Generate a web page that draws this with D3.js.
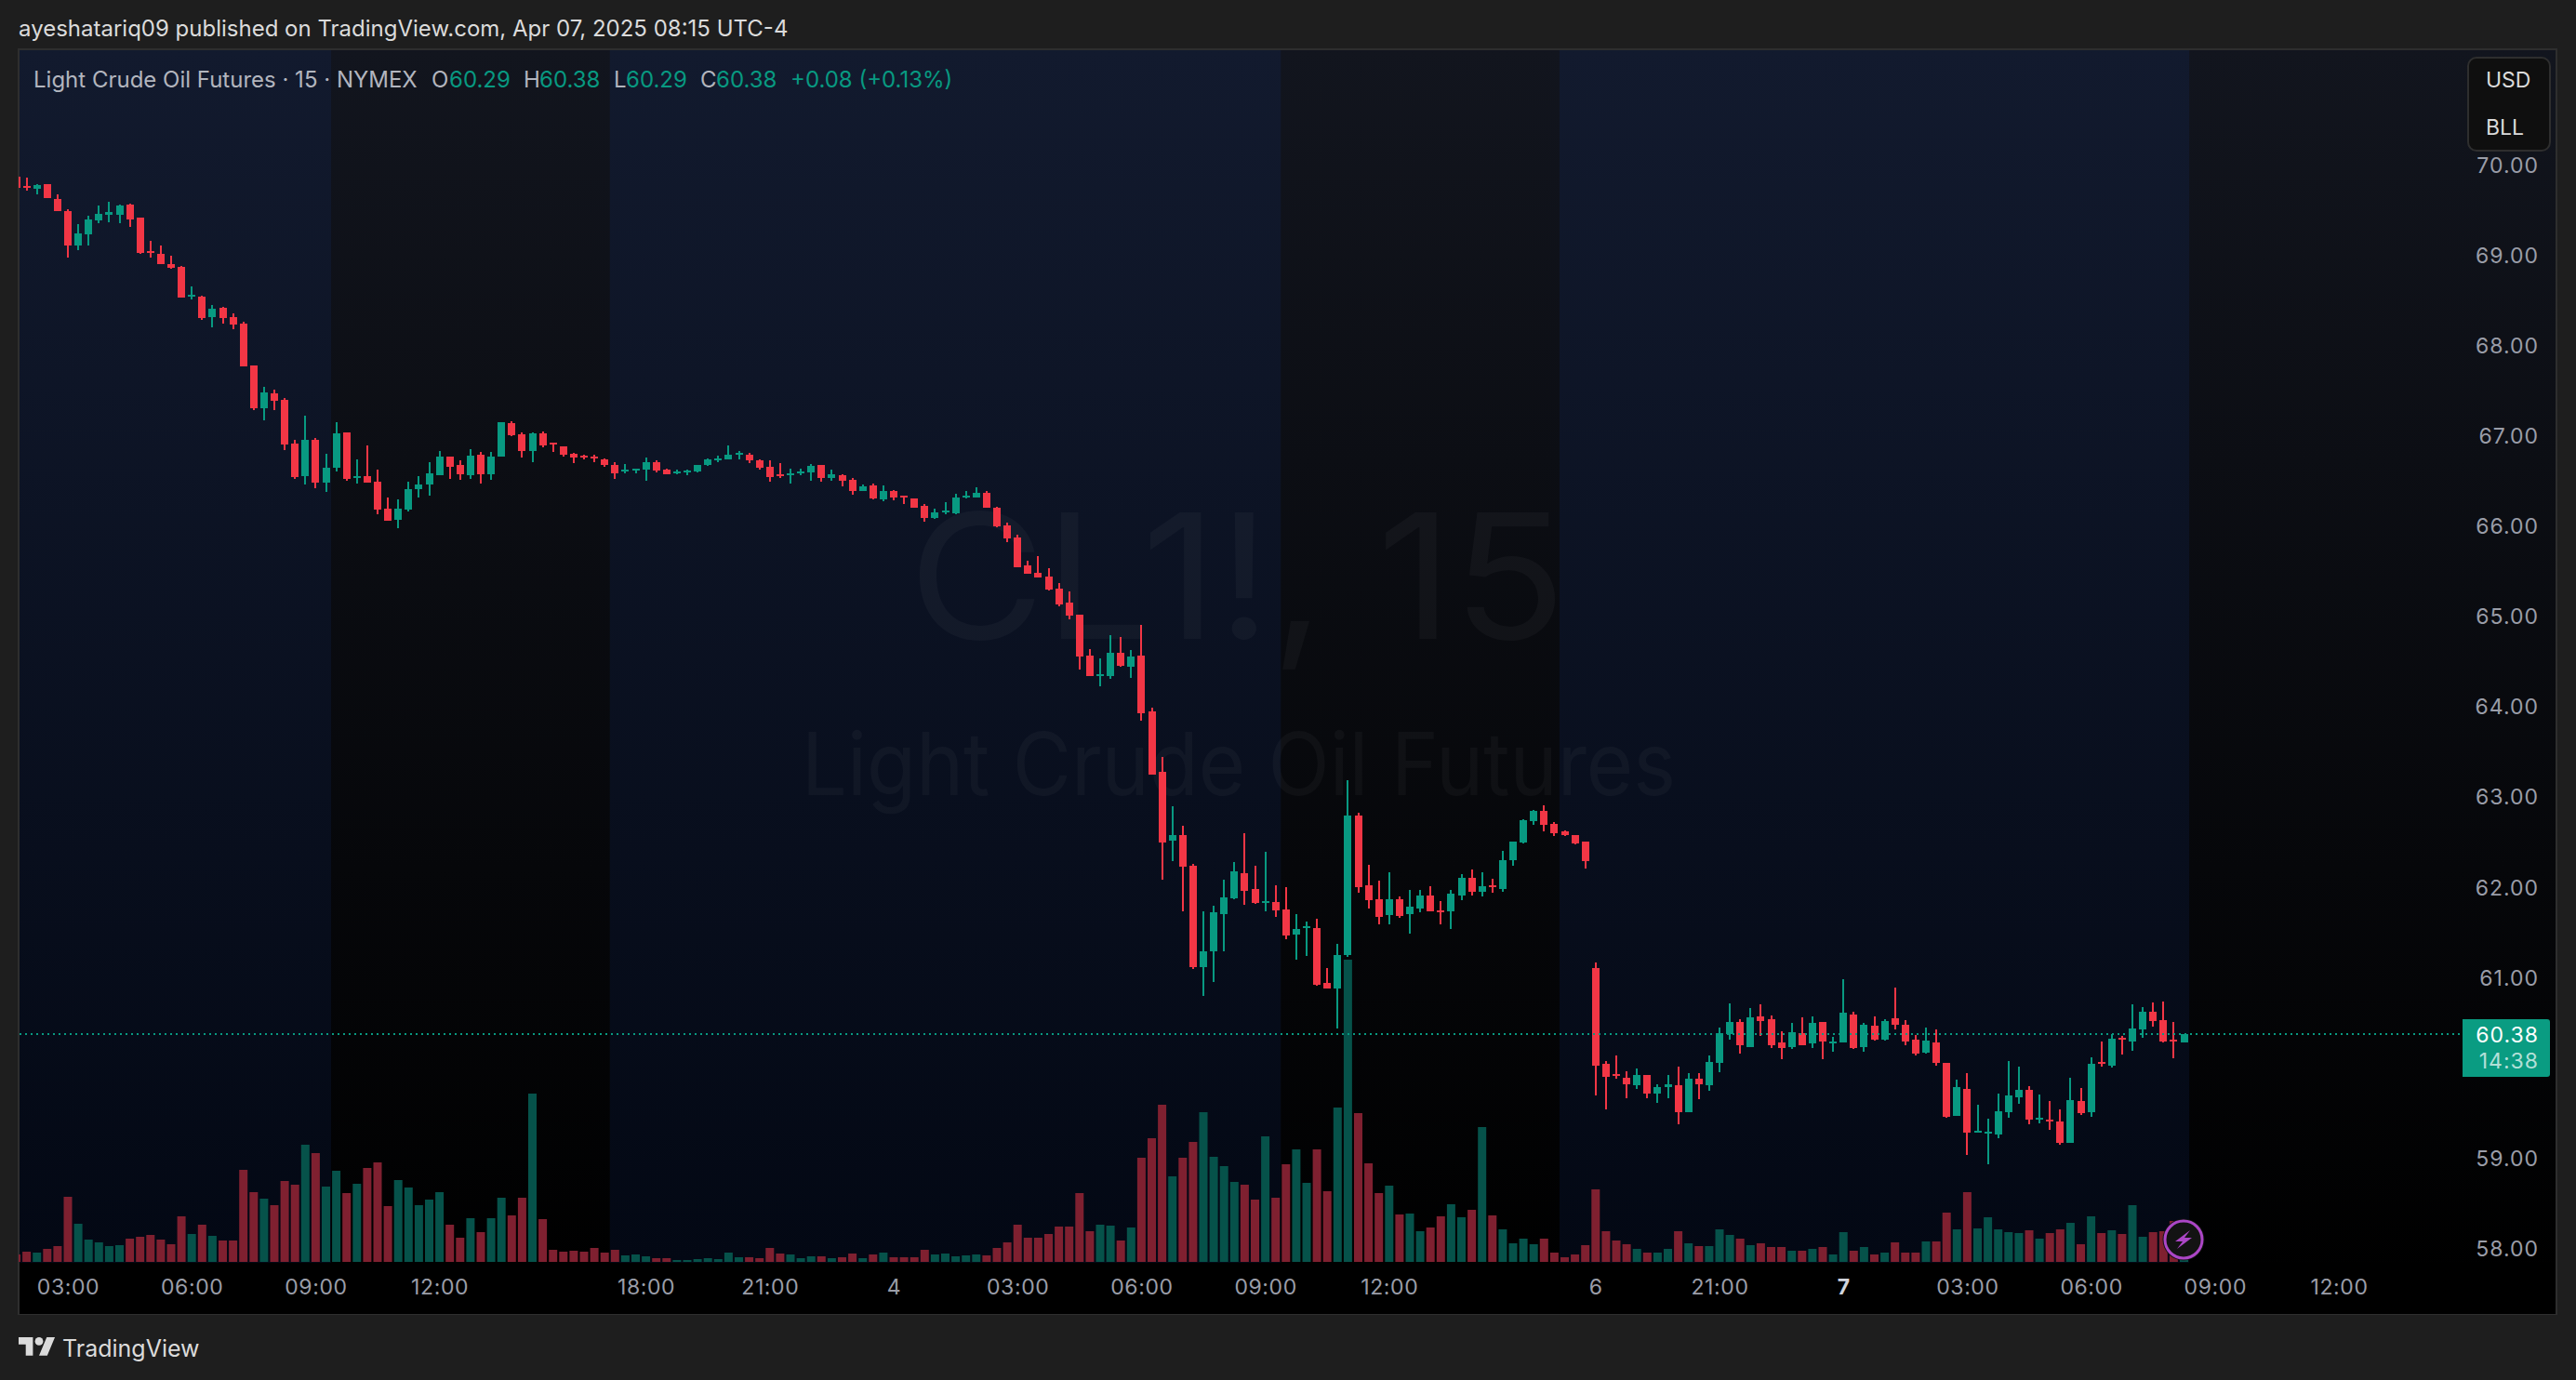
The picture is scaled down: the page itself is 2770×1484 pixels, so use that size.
<!DOCTYPE html>
<html><head><meta charset="utf-8">
<script src="https://cdnjs.cloudflare.com/ajax/libs/d3/7.8.5/d3.min.js"></script>
<style>html,body{margin:0;padding:0;background:#1e1e1e}svg{display:block}text{font-family:Inter,"Noto Sans",sans-serif}</style>
</head><body><svg id="c" width="2770" height="1484"></svg>
<script>
const firstIndex=-5;
const opens=[69.88,69.77,69.74,69.79,69.63,
69.50,69.11,69.24,69.39,69.45,69.45,69.57,69.42,69.05,69.02,
68.91,68.88,68.55,68.55,68.32,68.42,68.32,68.25,67.79,67.31,
67.48,67.40,66.92,66.56,66.96,66.49,66.65,67.04,66.54,66.56,
66.50,66.20,66.08,66.19,66.42,66.47,66.57,66.78,66.68,66.57,
66.80,66.58,66.78,67.15,67.02,66.84,67.03,66.93,66.89,66.81,
66.79,66.78,66.75,66.68,66.61,66.62,66.63,66.71,66.63,66.59,
66.60,66.61,66.68,66.74,66.75,66.80,66.80,66.73,66.66,66.58,
66.57,66.59,66.60,66.68,66.54,66.57,66.52,66.40,66.46,66.30,
66.39,66.34,66.31,66.23,66.10,66.16,66.15,66.32,66.32,66.37,
66.21,66.01,65.88,65.57,65.49,65.45,65.31,65.16,65.02,64.57,
64.34,64.34,64.60,64.45,64.57,63.95,63.28,62.52,62.58,62.24,
61.12,61.30,61.71,61.88,62.16,61.99,61.83,61.84,61.76,61.48,
61.56,61.55,60.95,60.88,61.25,62.80,62.03,61.87,61.70,61.87,
61.71,61.77,61.91,61.75,61.74,61.91,62.11,61.96,62.03,61.99,
62.31,62.50,62.74,62.85,62.71,62.62,62.58,62.51,61.11,60.05,
59.94,59.90,59.81,59.93,59.72,59.79,59.81,59.51,59.88,59.81,
60.06,60.38,60.51,60.24,60.57,60.54,60.29,60.24,60.39,60.28,
60.51,60.28,60.29,60.60,60.24,60.47,60.32,60.55,60.48,60.32,
60.17,60.29,60.06,59.47,59.77,59.29,59.28,59.27,59.51,59.68,
59.76,59.43,59.43,59.41,59.17,59.64,59.51,60.07,60.03,60.34,
60.30,60.43,60.63,60.53,60.32,60.29];
const highs=[69.88,69.87,69.79,69.79,69.68,
69.52,69.35,69.44,69.56,69.60,69.57,69.58,69.42,69.17,69.11,
69.00,68.89,68.66,68.56,68.45,68.43,68.36,68.27,67.79,67.55,
67.52,67.43,66.96,67.23,66.98,66.81,67.16,67.04,66.75,66.90,
66.63,66.32,66.30,66.50,66.56,66.71,66.84,66.78,66.73,66.86,
66.83,66.83,67.16,67.17,67.04,67.04,67.05,66.93,66.89,66.82,
66.80,66.80,66.76,66.71,66.69,66.64,66.77,66.73,66.64,66.63,
66.63,66.68,66.76,66.79,66.90,66.84,66.82,66.75,66.73,66.70,
66.64,66.64,66.69,66.68,66.63,66.58,66.54,66.47,66.48,66.46,
66.41,66.34,66.31,66.25,66.20,66.27,66.36,66.40,66.44,66.39,
66.22,66.04,65.91,65.62,65.67,65.54,65.38,65.28,65.02,64.64,
64.54,64.80,64.78,64.63,64.91,63.99,63.45,62.90,62.69,62.26,
61.74,61.80,62.09,62.29,62.60,62.24,62.40,62.03,62.01,61.71,
61.63,61.66,61.11,61.38,63.19,62.83,62.25,62.08,62.17,61.90,
61.98,61.98,62.02,61.85,61.98,62.15,62.20,62.17,62.10,62.41,
62.51,62.76,62.86,62.91,62.73,62.64,62.58,62.51,61.17,60.08,
60.14,59.97,60.00,59.93,59.82,59.93,60.02,59.95,59.95,60.14,
60.45,60.72,60.54,60.67,60.71,60.59,60.41,60.50,60.56,60.58,
60.51,60.35,60.99,60.63,60.50,60.58,60.54,60.89,60.53,60.37,
60.45,60.43,60.06,59.87,59.95,59.60,59.44,59.72,60.08,60.02,
59.80,59.71,59.64,59.54,59.90,59.78,60.12,60.30,60.38,60.36,
60.71,60.68,60.73,60.74,60.51,60.38];
const lows=[69.75,69.72,69.68,69.64,69.50,
68.98,69.06,69.11,69.36,69.37,69.36,69.32,69.02,68.98,68.91,
68.86,68.54,68.52,68.29,68.21,68.25,68.19,67.77,67.29,67.18,
67.29,66.85,66.53,66.47,66.43,66.38,66.61,66.51,66.48,66.49,
66.14,66.07,65.98,66.17,66.32,66.34,66.57,66.53,66.52,66.53,
66.48,66.52,66.78,67.00,66.77,66.71,66.88,66.83,66.78,66.70,
66.75,66.71,66.66,66.53,66.59,66.59,66.51,66.60,66.58,66.58,
66.57,66.60,66.67,66.71,66.75,66.75,66.70,66.63,66.50,66.54,
66.48,66.57,66.51,66.50,66.51,66.45,66.35,66.40,66.30,66.28,
66.29,66.25,66.21,66.06,66.09,66.14,66.14,66.31,66.32,66.21,
65.99,65.83,65.55,65.48,65.44,65.29,65.12,64.97,64.42,64.34,
64.23,64.31,64.45,64.32,63.85,63.25,62.09,62.30,61.74,61.10,
60.80,60.96,61.30,61.87,61.81,61.82,61.74,61.68,61.43,61.20,
61.24,60.92,60.88,60.44,61.23,61.94,61.77,61.60,61.59,61.67,
61.49,61.73,61.74,61.59,61.54,61.86,61.91,61.90,61.95,61.96,
62.24,62.49,62.70,62.62,62.57,62.57,62.48,62.21,59.70,59.55,
59.88,59.67,59.77,59.67,59.62,59.67,59.38,59.51,59.66,59.75,
59.96,60.32,60.16,60.24,60.36,60.23,60.10,60.21,60.26,60.23,
60.10,60.18,60.29,60.21,60.18,60.31,60.31,60.43,60.26,60.14,
60.16,60.03,59.45,59.47,59.04,59.29,58.94,59.23,59.45,59.61,
59.38,59.39,59.32,59.15,59.17,59.48,59.46,60.02,60.01,60.15,
60.19,60.34,60.46,60.29,60.11,60.29];
const closes=[69.75,69.76,69.78,69.64,69.50,
69.11,69.25,69.40,69.46,69.48,69.56,69.40,69.03,69.04,68.91,
68.87,68.54,68.57,68.31,68.41,68.31,68.24,67.78,67.31,67.49,
67.39,66.91,66.55,66.96,66.49,66.65,67.03,66.53,66.56,66.49,
66.19,66.07,66.20,66.42,66.47,66.59,66.78,66.66,66.58,66.79,
66.58,66.78,67.16,67.01,66.84,67.03,66.90,66.91,66.80,66.77,
66.77,66.76,66.68,66.59,66.63,66.64,66.71,66.62,66.58,66.61,
66.62,66.68,66.75,66.76,66.80,66.82,66.73,66.65,66.55,66.56,
66.59,66.61,66.67,66.54,66.58,66.51,66.40,66.45,66.31,66.39,
66.32,66.32,66.21,66.10,66.16,66.18,66.32,66.34,66.37,66.21,
66.00,65.87,65.55,65.48,65.44,65.30,65.14,65.01,64.56,64.34,
64.37,64.60,64.46,64.56,63.93,63.25,62.50,62.58,62.23,61.12,
61.30,61.73,61.89,62.18,61.97,61.83,61.85,61.75,61.47,61.54,
61.57,60.93,60.88,61.26,62.80,62.01,61.86,61.68,61.87,61.69,
61.79,61.91,61.74,61.73,61.93,62.11,61.96,62.02,62.01,62.31,
62.51,62.75,62.85,62.70,62.60,62.58,62.49,62.30,60.03,59.91,
59.92,59.82,59.93,59.72,59.79,59.82,59.51,59.88,59.82,60.07,
60.39,60.51,60.26,60.56,60.52,60.26,60.23,60.40,60.26,60.50,
60.30,60.30,60.62,60.23,60.48,60.32,60.52,60.48,60.30,60.16,
60.31,60.06,59.46,59.79,59.29,59.31,59.30,59.52,59.70,59.76,
59.43,59.45,59.41,59.17,59.65,59.50,60.05,60.05,60.33,60.32,
60.44,60.63,60.52,60.30,60.30,60.38];
const volumes=[8,11,10,14,17,
70,41,24,21,17,18,25,27,29,24,
19,49,30,40,28,23,23,99,75,68,
61,87,83,126,117,81,98,74,84,101,
107,60,88,80,61,67,75,40,26,47,
32,47,69,50,69,181,46,13,11,12,
11,15,10,13,7,8,6,4,4,2,
2,3,4,3,10,5,5,4,15,9,
8,4,6,6,4,5,9,4,8,10,
5,5,5,13,8,9,6,7,8,7,
15,21,40,26,26,30,38,38,74,33,
40,39,23,37,112,133,169,92,112,129,
161,113,103,86,83,67,135,69,105,121,
85,121,76,166,325,160,106,74,82,51,
52,33,37,49,62,48,56,145,50,35,
20,25,19,25,10,5,8,18,78,33,
23,19,14,10,10,14,33,20,17,17,
35,29,25,18,20,16,16,12,12,14,
16,8,32,12,16,8,10,21,10,10,
22,22,53,35,75,36,48,35,32,31,
34,25,31,35,42,19,49,31,34,30,
61,27,32,33,44,2];
const priceTicks=[58,59,61,62,63,64,65,66,67,68,69,70];
const timeTickIndex=[0,12,24,36,56,68,80,92,104,116,128,148,160,172,184,196,208,220];
const timeTickLabels=["03:00","06:00","09:00","12:00","18:00","21:00","4","03:00","06:00","09:00","12:00","6","21:00","7","03:00","06:00","09:00","12:00"];
const sessionBands=[[-4.9,25.5],[52.5,117.5],[144.5,205.5]];
const lastPrice=60.38, countdown="14:38";
const legendName="Light Crude Oil Futures · 15 · NYMEX";
const legendO=60.29,legendH=60.38,legendL=60.29,legendC=60.38;
const legendChange="+0.08 (+0.13%)";

const UP="#089981",DOWN="#f23645",VUP="#06524a",VDOWN="#7f2030";
const svg=d3.select("#c");
const L=20,R=2749,T=54,B=1413,PB=1358;
const x=d3.scaleLinear().domain([0,220]).range([73,2515]);
const y=d3.scaleLinear().domain([58,70]).range([1343,178]);
const v=d3.scaleLinear().domain([0,325]).range([1357,1032]);
const data=opens.map((o,k)=>({i:firstIndex+k,o,h:highs[k],l:lows[k],c:closes[k],v:volumes[k]}));

const defs=svg.append("defs");
const grad=(id,a,b,y1,y2)=>{const g=defs.append("linearGradient").attr("id",id).attr("gradientUnits","userSpaceOnUse").attr("x1",0).attr("x2",0).attr("y1",y1).attr("y2",y2);
g.append("stop").attr("offset",0).attr("stop-color",a);g.append("stop").attr("offset",1).attr("stop-color",b);};
grad("dark","#12151e","#000000",T,B-40);
grad("blue","#121a2e","#030814",T,PB);
defs.append("clipPath").attr("id","pane").append("rect").attr("x",L).attr("y",T).attr("width",R-L).attr("height",PB-T);

svg.append("rect").attr("width",2770).attr("height",1484).attr("fill","#1e1e1e");
svg.append("rect").attr("x",L).attr("y",T-1).attr("width",R-L).attr("height",B-T+1).attr("fill","url(#dark)").attr("stroke","#2e2e2e").attr("stroke-width",2);
svg.append("rect").attr("x",L+1).attr("y",B-56).attr("width",R-L-2).attr("height",56).attr("fill","#000");
svg.append("g").selectAll("rect").data(sessionBands).join("rect")
 .attr("x",d=>Math.max(L+1,x(d[0]))).attr("y",T).attr("width",d=>x(d[1])-Math.max(L+1,x(d[0]))).attr("height",PB-T).attr("fill","url(#blue)");

// watermark
const wm=svg.append("g").attr("fill","#ffffff").attr("fill-opacity",0.035).attr("text-anchor","start").style("font-family","'Liberation Sans',Arial,sans-serif");
wm.append("text").attr("x",977).attr("y",687).attr("font-size",187).attr("textLength",707).attr("lengthAdjust","spacingAndGlyphs").text("CL1!, 15");
wm.append("text").attr("x",862).attr("y",855).attr("font-size",94).attr("textLength",940).attr("lengthAdjust","spacingAndGlyphs").text("Light Crude Oil Futures");

const pane=svg.append("g").attr("clip-path","url(#pane)");
pane.append("g").selectAll("rect").data(data).join("rect")
 .attr("x",d=>x(d.i)-4.5).attr("width",9).attr("y",d=>v(d.v)).attr("height",d=>v(0)-v(d.v))
 .attr("fill",d=>d.c>=d.o?VUP:VDOWN);
const cg=pane.append("g").attr("shape-rendering","crispEdges");
cg.selectAll("line").data(data).join("line")
 .attr("x1",d=>x(d.i)).attr("x2",d=>x(d.i)).attr("y1",d=>y(d.h)).attr("y2",d=>y(d.l))
 .attr("stroke-width",2).attr("stroke",d=>d.c>=d.o?UP:DOWN);
cg.selectAll("rect").data(data).join("rect")
 .attr("x",d=>x(d.i)-4).attr("width",8)
 .attr("y",d=>y(Math.max(d.o,d.c))).attr("height",d=>Math.max(2,Math.abs(y(d.o)-y(d.c))))
 .attr("fill",d=>d.c>=d.o?UP:DOWN);
svg.append("line").attr("x1",L+1).attr("x2",2648).attr("y1",y(lastPrice)).attr("y2",y(lastPrice))
 .attr("stroke",UP).attr("stroke-width",2).attr("stroke-dasharray","2 4");

// axes
const AXC="#9a9da8";
const ya=svg.append("g").attr("transform","translate(2730,0)").call(d3.axisRight(y).tickValues(priceTicks).tickFormat(d3.format(".2f")).tickSize(0));
ya.select(".domain").remove();
ya.selectAll("text").attr("x",0).attr("text-anchor","end").attr("fill",AXC).attr("font-size",23).attr("letter-spacing",1).style("font-family","Inter");
const xa=svg.append("g").attr("transform","translate(0,1376)").call(d3.axisBottom(x).tickValues(timeTickIndex).tickFormat((d,k)=>timeTickLabels[k]).tickSize(0));
xa.select(".domain").remove();
xa.selectAll("text").attr("y",0).attr("dy","0.71em").attr("fill",(d,k)=>timeTickLabels[k]==="7"?"#d1d4dc":AXC).attr("font-weight",(d,k)=>timeTickLabels[k]==="7"?700:400).attr("font-size",23).attr("letter-spacing",0.6).style("font-family","Inter");

// last price label
const lp=svg.append("g");
lp.append("path").attr("d","M2648,1096H2739a3,3 0 0 1 3,3V1155a3,3 0 0 1 -3,3H2648Z").attr("fill","#0a9c82");
lp.append("text").attr("x",2730).attr("y",1113).attr("dy","0.36em").attr("text-anchor","end").attr("fill","#fff").attr("font-size",23).attr("letter-spacing",1).text(lastPrice.toFixed(2));
lp.append("text").attr("x",2730).attr("y",1141).attr("dy","0.36em").attr("text-anchor","end").attr("fill","#fff").attr("fill-opacity",0.7).attr("font-size",23).attr("letter-spacing",1).text(countdown);

// header
svg.append("text").attr("x",20).attr("y",39).attr("fill","#dbdbdb").attr("font-size",24).text("ayeshatariq09 published on TradingView.com, Apr 07, 2025 08:15 UTC-4");

// legend
const G="#089981",N="#b2b5be";
const legend=[[36,legendName,N],[464,"O",N],[483,legendO.toFixed(2),G],[563,"H",N],[580,legendH.toFixed(2),G],[660,"L",N],[673,legendL.toFixed(2),G],[753,"C",N],[770,legendC.toFixed(2),G],[850,legendChange,G]];
svg.append("g").selectAll("text").data(legend).join("text").attr("x",d=>d[0]).attr("y",94).attr("font-size",24).attr("fill",d=>d[2]).text(d=>d[1]);

// currency box
svg.append("rect").attr("x",2654).attr("y",62).attr("width",88).attr("height",100).attr("rx",9).attr("fill","#0f0f0f").attr("stroke","#2e2e2e").attr("stroke-width",2);
svg.append("text").attr("x",2673).attr("y",86).attr("dy","0.36em").attr("fill","#dbdbdb").attr("font-size",23).text("USD");
svg.append("text").attr("x",2673).attr("y",137).attr("dy","0.36em").attr("fill","#dbdbdb").attr("font-size",23).text("BLL");

// bolt badge
const bolt=svg.append("g").attr("transform","translate(2348,1333)");
bolt.append("circle").attr("r",22.5).attr("fill","#131313");
bolt.append("circle").attr("r",20).attr("fill","#131313").attr("stroke","#ac46c6").attr("stroke-width",3);
bolt.append("path").attr("d","M7,-10L-9,2H-1L-7,10L9,-2H1Z").attr("fill","#ac46c6");

// footer
const logo=svg.append("g").attr("transform","translate(20,1433.6) scale(1.1)").attr("fill","#dbdbdb");
logo.append("path").attr("d","M14 22H7V11H0V4h14v18zM28 22h-8l7.5-18h8L28 22z");
logo.append("circle").attr("cx",20).attr("cy",8).attr("r",4);
svg.append("text").attr("x",67).attr("y",1459).attr("fill","#dbdbdb").attr("font-size",25).text("TradingView");
</script></body></html>
